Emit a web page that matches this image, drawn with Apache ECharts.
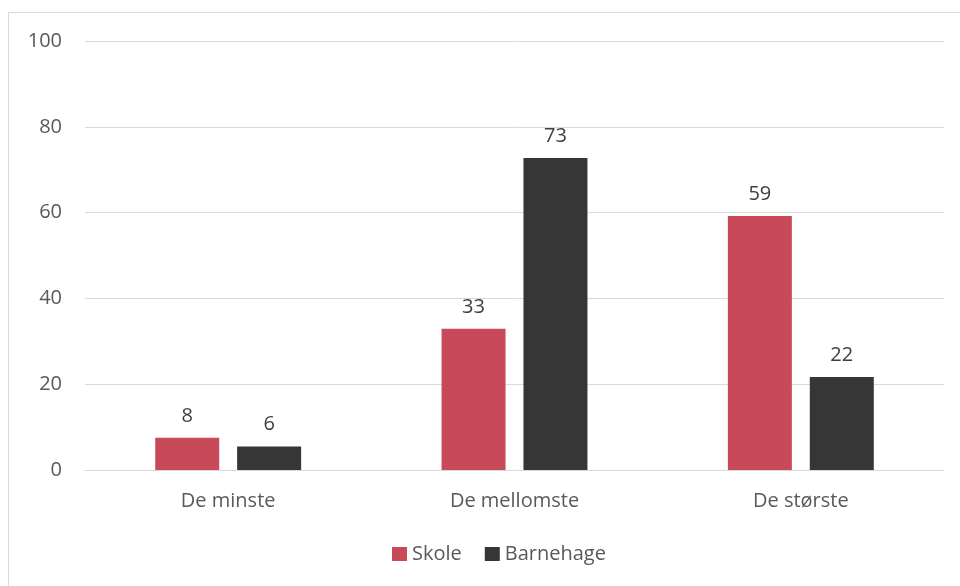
<!DOCTYPE html>
<html>
<head>
<meta charset="utf-8">
<script src="https://cdn.jsdelivr.net/npm/echarts@6/dist/echarts.min.js"></script>
<style>
  html, body { margin: 0; padding: 0; background: #fff; }
  #chart { width: 960px; height: 586px; }
</style>
</head>
<body>
<div id="chart"></div>
<script>
// data
var categories = ['De minste', 'De mellomste', 'De største'];
var skole = [7.5, 32.9, 59.2];
var barnehage = [5.5, 72.7, 21.7];
var yTicks = [0, 20, 40, 60, 80, 100];

var font = '"Open Sans", "Liberation Sans", sans-serif';

var chart = echarts.init(document.getElementById('chart'));
var option = {
  backgroundColor: '#fff',
  animation: false,
  graphic: [{
    type: 'rect',
    shape: { x: 8.5, y: 12.5, width: 960, height: 600 },
    style: { fill: 'none', stroke: '#d9d9d9', lineWidth: 1 },
    silent: true
  }],
  grid: { left: 85, right: 16, top: 41, bottom: 116 },
  legend: {
    bottom: 17,
    left: 387,
    itemWidth: 15,
    itemHeight: 14,
    itemGap: 23,
    icon: 'rect',
    textStyle: { fontFamily: font, fontSize: 20, color: '#595959' },
    data: ['Skole', 'Barnehage']
  },
  xAxis: {
    type: 'category',
    data: categories,
    axisLine: { lineStyle: { color: '#d9d9d9', width: 1 } },
    axisTick: { show: false },
    axisLabel: { fontFamily: font, fontSize: 20, color: '#595959', margin: 21 }
  },
  yAxis: {
    type: 'value',
    min: yTicks[0],
    max: yTicks[yTicks.length - 1],
    interval: 20,
    axisLine: { show: false },
    axisTick: { show: false },
    splitLine: { lineStyle: { color: '#d9d9d9', width: 1 } },
    axisLabel: { fontFamily: font, fontSize: 20, color: '#595959', margin: 23 }
  },
  series: [
    {
      name: 'Skole',
      type: 'bar',
      data: skole,
      barWidth: 64,
      barGap: '28%',
      itemStyle: { color: '#c84a58' },
      label: {
        show: true, position: 'top', distance: 12,
        fontFamily: font, fontSize: 20, color: '#404040',
        formatter: function (p) { return Math.round(p.value); }
      }
    },
    {
      name: 'Barnehage',
      type: 'bar',
      data: barnehage,
      barWidth: 64,
      itemStyle: { color: '#363636' },
      label: {
        show: true, position: 'top', distance: 12,
        fontFamily: font, fontSize: 20, color: '#404040',
        formatter: function (p) { return Math.round(p.value); }
      }
    }
  ]
};
chart.setOption(option);
</script>
</body>
</html>
